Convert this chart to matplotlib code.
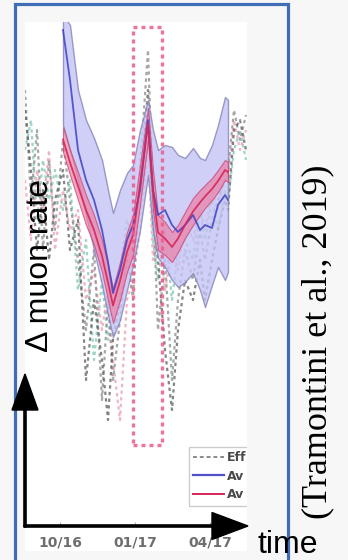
import matplotlib
matplotlib.use("Agg")
import matplotlib.pyplot as plt
from matplotlib.patches import Rectangle, FancyArrow
from matplotlib.transforms import IdentityTransform
from matplotlib.lines import Line2D

# months since 10/2016 (0 = 10/16, 3 = 01/17, 6 = 04/17)
band_months = [0.12, 0.40, 0.72, 1.04, 1.36, 1.68, 1.92, 2.12, 2.40, 2.68, 2.92, 3.20, 3.52,
               3.72, 3.92, 4.20, 4.48, 4.72, 5.00, 5.32, 5.60, 5.80, 6.08, 6.32, 6.60, 6.72]
eff_months = [-1.40, -1.16, -0.92, -0.68, -0.44, -0.20,
              0.12, 0.40, 0.72, 1.04, 1.36, 1.68, 1.92, 2.12, 2.40, 2.68, 2.92, 3.20, 3.52,
              3.72, 3.92, 4.20, 4.48, 4.72, 5.00, 5.32, 5.60, 5.80, 6.08, 6.32, 6.60, 6.72,
              6.96, 7.20, 7.44]

blue_upper = [5.14, 4.94, 3.64, 3.04, 2.68, 2.24, 1.64, 1.18, 1.64, 1.98, 2.14, 2.84, 3.44,
              2.84, 2.44, 2.54, 2.50, 2.34, 2.28, 2.48, 2.28, 2.24, 2.54, 2.94, 3.50, 3.44]
blue_lower = [2.94, 2.44, 1.84, 1.14, 0.44, -0.26, -0.86, -1.30, -0.96, -0.36, 0.14, 0.84, 1.94,
              0.84, 0.28, 0.10, -0.16, -0.30, -0.20, -0.02, -0.36, -0.70, -0.26, 0.10, -0.16, 0.00]
blue_mean = [4.84, 3.84, 2.44, 1.84, 1.44, 0.84, 0.20, -0.42, 0.04, 0.64, 0.94, 1.64, 3.04,
             1.64, 1.14, 1.24, 0.94, 0.80, 0.94, 1.14, 0.84, 0.94, 0.88, 1.34, 1.54, 1.44]

red_upper = [2.90, 2.44, 2.00, 1.54, 1.14, 0.64, 0.14, -0.32, 0.20, 0.80, 1.14, 2.14, 3.28,
             2.04, 1.14, 1.00, 0.80, 0.94, 1.20, 1.48, 1.64, 1.74, 1.88, 2.04, 2.24, 2.20]
red_lower = [2.40, 1.94, 1.44, 0.94, 0.54, 0.00, -0.56, -1.02, -0.56, 0.00, 0.34, 1.34, 2.64,
             1.24, 0.44, 0.34, 0.20, 0.40, 0.68, 0.94, 1.14, 1.28, 1.44, 1.60, 1.84, 1.80]
red_mean = [2.65, 2.19, 1.72, 1.24, 0.84, 0.32, -0.21, -0.67, -0.18, 0.40, 0.74, 1.74, 2.96,
            1.64, 0.79, 0.67, 0.50, 0.67, 0.94, 1.21, 1.39, 1.51, 1.66, 1.82, 2.04, 2.00]

eff_a = [3.64, 1.44, 2.84, 0.44, 2.24, 0.84,
         2.64, 1.44, 0.24, -1.16, 0.44, -2.56, -0.56, -2.16, -0.96, 0.44, -0.56, 2.04, 4.44,
         1.44, -1.16, 0.24, -2.16, -0.56, 0.44, -0.16, 0.84, 0.24, 1.04, 1.44, 1.84, 2.04,
         3.24, 2.64, 3.14]
eff_b = [2.44, 3.04, 1.04, 2.24, 1.44, 2.04,
         1.24, 1.84, -0.36, 0.64, -1.76, -0.16, -1.36, -0.56, 0.04, 1.04, 0.64, 1.44, 3.04,
         0.64, -0.16, 0.84, -0.56, 0.44, 0.64, 0.24, 1.24, 0.64, 1.44, 0.84, 1.64, 1.44,
         2.44, 2.84, 2.24]
eff_c = [1.84, 0.64, 2.04, 1.24, 2.44, 0.44,
         1.64, 0.84, 1.24, -0.56, 0.04, -1.16, -0.36, -1.76, -2.96, -0.56, -0.16, 0.84, 2.44,
         0.24, 0.84, -0.36, 0.44, 0.04, 1.04, 0.64, 1.24, 0.84, 1.64, 1.24, 2.04, 1.84,
         3.04, 2.44, 2.84]
eff_d = [3.24, 2.04, 0.44, 1.64, 0.24, 1.44,
         2.04, 0.44, 1.04, -2.16, -0.56, -1.76, -2.96, -1.36, -0.56, 0.24, 0.84, 1.64, 3.64,
         1.04, 0.24, -1.56, -2.76, -1.16, -0.16, -0.56, 0.24, -0.56, 0.24, 0.84, 1.44, 1.24,
         2.84, 3.04, 2.44]

# highlighted period (months) and its vertical extent
highlight = (2.92, 4.08)
highlight_y = (-3.46, 4.90)

tick_pos = [0, 3, 6]
tick_labels = ["10/16", "01/17", "04/17"]
legend_labels = ["Eff", "Av", "Av"]

W, H = 348, 560
fig = plt.figure(figsize=(W / 100, H / 100), dpi=100, facecolor="#f7f7f7")

def fr(x0, y0, x1, y1):
    # pixel box (top-left origin) -> figure fraction rect
    return [x0 / W, 1 - y1 / H, (x1 - x0) / W, (y1 - y0) / H]

# white background of the pasted chart
r = fr(25, 22, 247, 551)
fig.add_artist(Rectangle((r[0], r[1]), r[2], r[3], transform=fig.transFigure,
                         facecolor="white", edgecolor="none", zorder=-2))

ax = fig.add_axes(fr(25, 22, 247, 522))
ax.set_facecolor("white")

for ys, c in zip([eff_b, eff_c, eff_a, eff_d], ["#7cc7b6", "#ea9cb4", "#8a8a8a", "#5c5c5c"]):
    ax.plot(eff_months, ys, color=c, lw=1.6, ls=(0, (1.5, 1.5)), alpha=0.75, zorder=2)

ax.fill_between(band_months, blue_lower, blue_upper, color="#c3c3f5", alpha=0.8,
                edgecolor="#8585bb", lw=1.0, zorder=3)
ax.fill_between(band_months, red_lower, red_upper, color="#ee80a6", alpha=0.7,
                edgecolor="#c83a6a", lw=0.8, zorder=4)
ax.plot(band_months, blue_mean, color="#4040c4", lw=1.3, alpha=0.85, zorder=5)
ax.plot(band_months, red_mean, color="#d42658", lw=1.3, alpha=0.9, zorder=5)

ax.add_patch(Rectangle((highlight[0], highlight_y[0]), highlight[1] - highlight[0],
                       highlight_y[1] - highlight_y[0], fill=False, edgecolor="#ec5a8e",
                       lw=2.4, ls=(0, (1.2, 1.2)), alpha=0.85, zorder=6))

ax.set_xlim(-1.4, 7.48)
ax.set_ylim(-5, 5)
for s in ax.spines.values():
    s.set_visible(False)
ax.set_yticks([])
ax.set_xticks(tick_pos)
ax.set_xticklabels(tick_labels, fontsize=10, color="#6e6e6e", fontweight="bold")
ax.tick_params(axis="x", length=3, color="#b0b0b0", pad=7)

handles = [Line2D([], [], color="#8a8a8a", lw=1.4, ls=(0, (2, 1.5))),
           Line2D([], [], color="#5050c8", lw=1.6),
           Line2D([], [], color="#d42658", lw=1.4)]
leg = ax.legend(handles, legend_labels, loc="lower left", mode="expand",
                bbox_to_anchor=(0.71, 0.02, 0.6, 0.2), fontsize=9, handlelength=2.5,
                handletextpad=0.2, labelspacing=0.45, borderpad=0.35, frameon=True,
                fancybox=False, edgecolor="#cccccc", framealpha=1.0)
# the pasted chart is cropped on its right side
for a in leg.findobj():
    a.set_clip_box(ax.bbox)
    a.set_clip_on(True)
for t in leg.get_texts():
    t.set_color("#4a4a4a")
    t.set_fontweight("bold")

# blue frame
r = fr(15, 4, 288, 575)
fig.add_artist(Rectangle((r[0], r[1]), r[2], r[3], transform=fig.transFigure,
                         facecolor="none", edgecolor="#3f6db6", lw=2.3, zorder=6))

# axis arrows
fig.add_artist(FancyArrow(25, H - 527, 0, 527 - 374, width=2.2, head_width=26,
                          head_length=36, length_includes_head=True, color="black",
                          transform=IdentityTransform(), zorder=7))
fig.add_artist(FancyArrow(24, H - 526, 248 - 24, 0, width=2.2, head_width=27,
                          head_length=36, length_includes_head=True, color="black",
                          transform=IdentityTransform(), zorder=7))

fig.text(40 / W, 1 - 266 / H, "\u0394 muon rate", rotation=90, ha="center", va="center",
         fontsize=23, family="Liberation Sans", zorder=8)
fig.text(258 / W, 7 / H, "time", ha="left", va="baseline", fontsize=23,
         family="Liberation Sans", zorder=8)
fig.text(318 / W, 1 - 342 / H, "(Tramontini et al., 2019)", rotation=90, ha="center",
         va="center", fontsize=26, family="Liberation Serif", zorder=8)

fig.savefig("out.png", dpi=100, facecolor=fig.get_facecolor())
